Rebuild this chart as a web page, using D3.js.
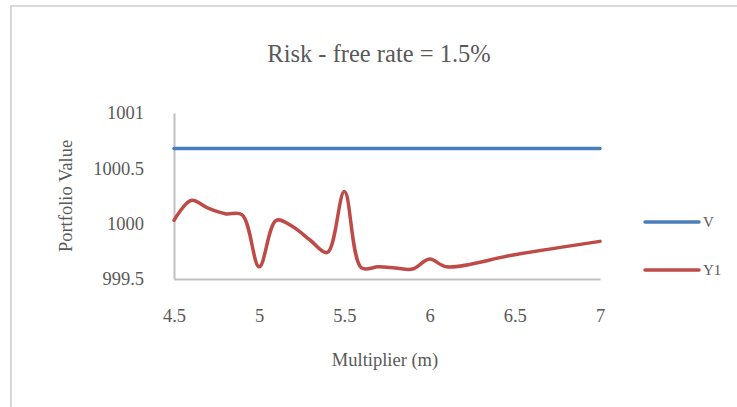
<!DOCTYPE html>
<html>
<head>
<meta charset="utf-8">
<script src="https://cdn.jsdelivr.net/npm/d3@7"></script>
<style>
  body { margin: 0; background: #fff; }
  svg text { font-family: "Liberation Serif", "Times New Roman", serif; fill: #595959; }
</style>
</head>
<body>
<svg id="chart" width="737" height="407"></svg>
<script>
// multiplier values (x)
const multipliers = [4.5, 4.6, 4.7, 4.8, 4.9, 5.0, 5.1, 5.2, 5.3, 5.4, 5.5, 5.6, 5.7, 5.8, 5.9, 6.0, 6.1, 6.5, 7.0];
// portfolio value V (flat)
const seriesV = [1000.68, 1000.68, 1000.68, 1000.68, 1000.68, 1000.68, 1000.68, 1000.68, 1000.68, 1000.68,
                 1000.68, 1000.68, 1000.68, 1000.68, 1000.68, 1000.68, 1000.68, 1000.68, 1000.68];
// Y1
const seriesY1 = [1000.03, 1000.21, 1000.14, 1000.09, 1000.08, 999.61, 1000.03, 999.97, 999.85, 999.74,
                  1000.29, 999.60, 999.61, 999.60, 999.59, 999.68, 999.61, 999.72, 999.84];
const xTicks = [4.5, 5, 5.5, 6, 6.5, 7];
const yTicks = [999.5, 1000, 1000.5, 1001];
const seriesNames = ['V', 'Y1'];
const seriesColors = ['#4a7ebb', '#be4b48'];

const svg = d3.select('#chart');

// outer chart frame
svg.append('rect')
    .attr('x', 11).attr('y', 6)
    .attr('width', 740).attr('height', 410)
    .attr('fill', 'none')
    .attr('stroke', '#d9d9d9')
    .attr('stroke-width', 2);

const x = d3.scaleLinear().domain([4.5, 7]).range([174, 600]);
const y = d3.scaleLinear().domain([999.5, 1001]).range([279, 113]);

// title
svg.append('text')
    .attr('x', 379).attr('y', 62)
    .attr('text-anchor', 'middle')
    .style('font-size', '24.5px')
    .text('Risk - free rate = 1.5%');

// axes
const xAxis = svg.append('g')
    .attr('transform', `translate(0,${y(999.5)})`)
    .call(d3.axisBottom(x).tickValues(xTicks).tickSize(0).tickPadding(30).tickFormat(d3.format('')));
const yAxis = svg.append('g')
    .attr('transform', `translate(${x(4.5)},0)`)
    .call(d3.axisLeft(y).tickValues(yTicks).tickSize(0).tickPadding(30).tickFormat(d3.format('')));

[xAxis, yAxis].forEach(g => {
    g.select('.domain').attr('stroke', '#bfbfbf').attr('stroke-width', 2);
    g.selectAll('text')
        .style('font-family', '"Liberation Serif", serif')
        .style('font-size', '18.5px')
        .attr('fill', '#595959');
});

// axis titles
svg.append('text')
    .attr('x', 385).attr('y', 366)
    .attr('text-anchor', 'middle')
    .style('font-size', '18.5px')
    .text('Multiplier (m)');

svg.append('text')
    .attr('transform', 'translate(72,196) rotate(-90)')
    .attr('text-anchor', 'middle')
    .style('font-size', '18.5px')
    .text('Portfolio Value');

// lines
const line = d3.line()
    .x(d => x(d[0]))
    .y(d => y(d[1]))
    .curve(d3.curveCatmullRom.alpha(0.5));

[seriesV, seriesY1].forEach((values, i) => {
    svg.append('path')
        .datum(multipliers.map((m, j) => [m, values[j]]))
        .attr('d', line)
        .attr('fill', 'none')
        .attr('stroke', seriesColors[i])
        .attr('stroke-width', 3.5)
        .attr('stroke-linecap', 'round')
        .attr('stroke-linejoin', 'round');
});

// legend
const legend = svg.append('g').attr('transform', 'translate(645,222)');
seriesNames.forEach((name, i) => {
    const row = legend.append('g').attr('transform', `translate(0,${i * 48})`);
    row.append('line')
        .attr('x1', 0).attr('x2', 54)
        .attr('stroke', seriesColors[i])
        .attr('stroke-width', 3.5)
        .attr('stroke-linecap', 'round');
    row.append('text')
        .attr('x', 58).attr('y', 5)
        .style('font-size', '15px')
        .text(name);
});
</script>
</body>
</html>
